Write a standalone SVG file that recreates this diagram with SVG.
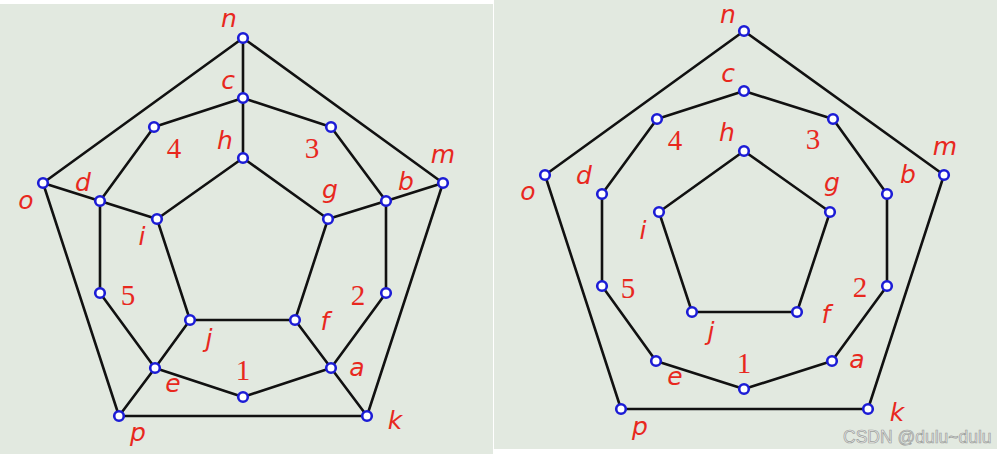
<svg xmlns="http://www.w3.org/2000/svg" width="997" height="454" viewBox="0 0 997 454">
<style>
.bg{fill:#e2e9e0}
.e{stroke:#111;stroke-width:2.6;fill:none;stroke-linecap:round;stroke-linejoin:round}
.v{fill:#fff;stroke:#1c1cd6;stroke-width:2.6}
.l{font-family:"DejaVu Sans",sans-serif;font-style:italic;font-size:25px;fill:#e8281e;text-anchor:middle;dominant-baseline:central}
.d{font-family:"Liberation Serif",serif;font-size:29px;fill:#e8281e;text-anchor:middle;dominant-baseline:central}
.w{font-family:"Liberation Sans",sans-serif;font-size:17.5px;fill:#ececec;stroke:#9ca09c;stroke-width:0.7}
</style>
<rect x="0" y="0" width="997" height="454" fill="#fff"/>
<rect class="bg" x="0" y="4" width="493" height="450"/>
<rect class="bg" x="494" y="0" width="503" height="449"/>
<g id="connectors">
<g id="left-edges">
<polyline class="e" points="243,38 243,98 243,158"/>
<polygon class="e" points="243,38 443,183 367,416 119,416 43,183"/>
<polyline class="e" points="243,98 154,127 100,201 100,293 155,368 243,397 331,368 386,293 386,201 331,127 243,98"/>
<polygon class="e" points="243,158 328,219 295,320 190,320 157,219"/>
<line class="e" x1="43" y1="183" x2="100" y2="201"/>
<line class="e" x1="100" y1="201" x2="157" y2="219"/>
<line class="e" x1="443" y1="183" x2="386" y2="201"/>
<line class="e" x1="386" y1="201" x2="328" y2="219"/>
<line class="e" x1="119" y1="416" x2="155" y2="368"/>
<line class="e" x1="155" y1="368" x2="190" y2="320"/>
<line class="e" x1="367" y1="416" x2="331" y2="368"/>
<line class="e" x1="331" y1="368" x2="295" y2="320"/>
</g>
<g id="right-edges">
<polygon class="e" points="744,31 944,175 868,409 621,409 545,175"/>
<polygon class="e" points="744,91 833,119 887,194 887,286 832,361 744,389 656,361 602,286 602,194 657,119"/>
<polygon class="e" points="744,151 830,212 797,312 692,312 659,212"/>
</g>
</g>
<g id="left-graph">
<g id="L-n"><circle class="v" cx="243" cy="38" r="4.8"/><text class="l" x="229" y="18">n</text></g>
<g id="L-c"><circle class="v" cx="243" cy="98" r="4.8"/><text class="l" x="228" y="80">c</text></g>
<g id="L-h"><circle class="v" cx="243" cy="158" r="4.8"/><text class="l" x="225" y="140">h</text></g>
<g id="L-4"><circle class="v" cx="154" cy="127" r="4.8"/><text class="d" x="174" y="148">4</text></g>
<g id="L-3"><circle class="v" cx="331" cy="127" r="4.8"/><text class="d" x="312" y="148">3</text></g>
<g id="L-o"><circle class="v" cx="43" cy="183" r="4.8"/><text class="l" x="26" y="200">o</text></g>
<g id="L-m"><circle class="v" cx="443" cy="183" r="4.8"/><text class="l" x="443" y="154">m</text></g>
<g id="L-d"><circle class="v" cx="100" cy="201" r="4.8"/><text class="l" x="83" y="182">d</text></g>
<g id="L-b"><circle class="v" cx="386" cy="201" r="4.8"/><text class="l" x="406" y="181">b</text></g>
<g id="L-i"><circle class="v" cx="157" cy="219" r="4.8"/><text class="l" x="142" y="236">i</text></g>
<g id="L-g"><circle class="v" cx="328" cy="219" r="4.8"/><text class="l" x="330" y="189">g</text></g>
<g id="L-5"><circle class="v" cx="100" cy="293" r="4.8"/><text class="d" x="128" y="295">5</text></g>
<g id="L-2"><circle class="v" cx="386" cy="293" r="4.8"/><text class="d" x="358" y="295">2</text></g>
<g id="L-j"><circle class="v" cx="190" cy="320" r="4.8"/><text class="l" x="209" y="338">j</text></g>
<g id="L-f"><circle class="v" cx="295" cy="320" r="4.8"/><text class="l" x="325" y="321">f</text></g>
<g id="L-e"><circle class="v" cx="155" cy="368" r="4.8"/><text class="l" x="173" y="383">e</text></g>
<g id="L-a"><circle class="v" cx="331" cy="368" r="4.8"/><text class="l" x="357" y="367">a</text></g>
<g id="L-1"><circle class="v" cx="243" cy="397" r="4.8"/><text class="d" x="243" y="370">1</text></g>
<g id="L-p"><circle class="v" cx="119" cy="416" r="4.8"/><text class="l" x="138" y="432">p</text></g>
<g id="L-k"><circle class="v" cx="367" cy="416" r="4.8"/><text class="l" x="395" y="420">k</text></g>
</g>
<g id="right-graph">
<g id="R-n"><circle class="v" cx="744" cy="31" r="4.8"/><text class="l" x="728" y="14">n</text></g>
<g id="R-c"><circle class="v" cx="744" cy="91" r="4.8"/><text class="l" x="728" y="73">c</text></g>
<g id="R-h"><circle class="v" cx="744" cy="151" r="4.8"/><text class="l" x="727" y="132">h</text></g>
<g id="R-4"><circle class="v" cx="657" cy="119" r="4.8"/><text class="d" x="675" y="140">4</text></g>
<g id="R-3"><circle class="v" cx="833" cy="119" r="4.8"/><text class="d" x="813" y="139">3</text></g>
<g id="R-o"><circle class="v" cx="545" cy="175" r="4.8"/><text class="l" x="528" y="191">o</text></g>
<g id="R-m"><circle class="v" cx="944" cy="175" r="4.8"/><text class="l" x="945" y="146">m</text></g>
<g id="R-d"><circle class="v" cx="602" cy="194" r="4.8"/><text class="l" x="584" y="175">d</text></g>
<g id="R-b"><circle class="v" cx="887" cy="194" r="4.8"/><text class="l" x="908" y="174">b</text></g>
<g id="R-i"><circle class="v" cx="659" cy="212" r="4.8"/><text class="l" x="643" y="230">i</text></g>
<g id="R-g"><circle class="v" cx="830" cy="212" r="4.8"/><text class="l" x="832" y="182">g</text></g>
<g id="R-5"><circle class="v" cx="602" cy="286" r="4.8"/><text class="d" x="628" y="288">5</text></g>
<g id="R-2"><circle class="v" cx="887" cy="286" r="4.8"/><text class="d" x="860" y="287">2</text></g>
<g id="R-j"><circle class="v" cx="692" cy="312" r="4.8"/><text class="l" x="711" y="331">j</text></g>
<g id="R-f"><circle class="v" cx="797" cy="312" r="4.8"/><text class="l" x="826" y="314">f</text></g>
<g id="R-e"><circle class="v" cx="656" cy="361" r="4.8"/><text class="l" x="675" y="376">e</text></g>
<g id="R-a"><circle class="v" cx="832" cy="361" r="4.8"/><text class="l" x="857" y="359">a</text></g>
<g id="R-1"><circle class="v" cx="744" cy="389" r="4.8"/><text class="d" x="744" y="363">1</text></g>
<g id="R-p"><circle class="v" cx="621" cy="409" r="4.8"/><text class="l" x="640" y="426">p</text></g>
<g id="R-k"><circle class="v" cx="868" cy="409" r="4.8"/><text class="l" x="897" y="412">k</text></g>
</g>
<text class="w" x="843" y="443">CSDN @dulu~dulu</text>
</svg>
